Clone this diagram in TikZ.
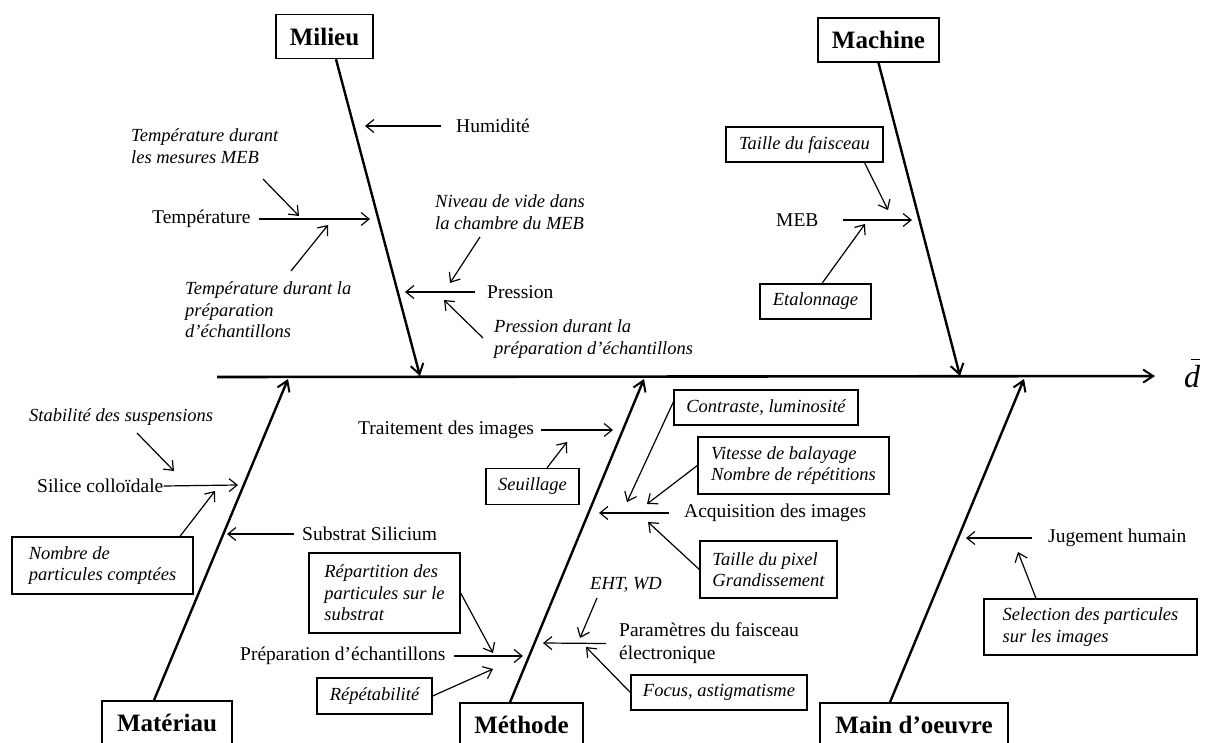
\documentclass[tikz,border=0pt]{standalone}
\usepackage{fontspec}
\setmainfont{Liberation Serif}
\usetikzlibrary{arrows.meta,calc}
\begin{document}
\begin{tikzpicture}[x=1pt,y=-1pt,
  norm/.style={font=\fontsize{19.5}{23}\selectfont, inner sep=0pt, anchor=west, align=left},
  ital/.style={font=\fontsize{18.5}{21.5}\selectfont\itshape, inner sep=0pt, anchor=west, align=left},
  ibox/.style={draw, line width=1.3pt, font=\fontsize{18.5}{21.5}\selectfont\itshape, inner sep=0pt, align=left},
  cat/.style={draw, line width=1.5pt, font=\fontsize{25}{28}\selectfont\bfseries, inner sep=0pt, minimum height=44pt},
  bone/.style={line width=2.4pt, -{Straight Barb[length=10pt,width=13pt,line width=2pt]}},
  spine/.style={line width=2.6pt, -{Straight Barb[length=10pt,width=13pt,line width=2pt]}},
  sub/.style={line width=1.2pt, -{Straight Barb[length=8pt,width=13pt]}}]
\clip (0,0) rectangle (1205,743);
\fill[white] (0,0) rectangle (1205,743);

% category boxes
\node[cat, minimum width=97pt] (milieu) at (324.5,36.5) {Milieu};
\node[cat, minimum width=121pt] (machine) at (878.5,40) {Machine};
\node[cat, minimum width=130pt] (materiau) at (167,723) {Matériau};
\node[cat, minimum width=123pt] (methode) at (521.5,725) {Méthode};
\node[cat, minimum width=188pt] (mo) at (914,725) {Main d’oeuvre};

% spine
\coordinate (spL) at (217,377);
\node[inner sep=0pt, anchor=base west, font=\fontsize{32}{36}\selectfont\itshape] (dbar) at (1184,387) {d};
\draw[line width=1.4pt] ([xshift=-1pt,yshift=5pt]dbar.north) -- ([xshift=8pt,yshift=5pt]dbar.north);
\draw[spine] (spL) -- ($(dbar.west)+(-29,0)$);

% bones
\coordinate (sMil) at (420,376);
\coordinate (sMac) at (960,376);
\coordinate (sMat) at (288,379);
\coordinate (sMet) at (644,379);
\coordinate (sMo) at (1024,379);
\draw[bone] ($(milieu.south)+(11.5,0)$) -- (sMil);
\draw[bone] (machine.south) -- (sMac);
\draw[bone] ($(materiau.north)+(-13,0)$) -- (sMat);
\draw[bone] ($(methode.north)+(-11.5,0)$) -- (sMet);
\draw[bone] ($(mo.north)+(-24,0)$) -- (sMo);

% ---------------- Milieu
\node[norm] (hum) at (456,126) {Humidité};
\coordinate (humE) at (365,126);
\draw[sub] ([xshift=-15pt]hum.west) -- (humE);

\node[ital] (tdm) at (131,146) {Température durant\\les mesures MEB};
\coordinate (tdmS) at (263,179);
\coordinate (tdmE) at (299,216);
\draw[sub] (tdmS) -- (tdmE);

\node[norm] (temp) at (152,219) {Température};
\coordinate (tempE) at (370,219);
\draw[sub] ([xshift=8pt]temp.east) -- (tempE);

\node[ital] (tdp) at (185,310) {Température durant la\\préparation\\d’échantillons};
\coordinate (tdpS) at (291,271);
\coordinate (tdpE) at (328,225);
\draw[sub] (tdpS) -- (tdpE);

\node[ital] (niv) at (435,212) {Niveau de vide dans\\la chambre du MEB};
\coordinate (nivS) at (480,237);
\coordinate (nivE) at (450,283);
\draw[sub] (nivS) -- (nivE);

\node[norm] (pres) at (487,292) {Pression};
\coordinate (presE) at (405,292);
\draw[sub] ([xshift=-12pt]pres.west) -- (presE);

\node[ital] (pdp) at (494,339) {Pression durant la\\préparation d’échantillons};
\coordinate (pdpS) at (483,338);
\coordinate (pdpE) at (444,300);
\draw[sub] (pdpS) -- (pdpE);

% ---------------- Machine
\node[ibox, minimum width=157pt, minimum height=35pt] (tf) at (804.5,144.5) {Taille du faisceau};
\coordinate (tfE) at (888,210);
\draw[sub] ([xshift=60pt]tf.south) -- (tfE);

\node[norm] (meb) at (776,220) {MEB};
\coordinate (mebE) at (912,220);
\draw[sub] ([xshift=24pt]meb.east) -- (mebE);

\node[ibox, minimum width=111pt, minimum height=35pt] (et) at (815.5,301.5) {Etalonnage};
\coordinate (etE) at (865,224);
\draw[sub] ([xshift=6.5pt]et.north) -- (etE);

% ---------------- Materiau
\node[ital] (stab) at (29,417) {Stabilité des suspensions};
\coordinate (stabS) at (137,433);
\coordinate (stabE) at (174,471);
\draw[sub] (stabS) -- (stabE);

\node[norm] (sil) at (37,486) {Silice colloïdale};
\coordinate (silE) at (238,485);
\draw[sub] (sil.east) -- (silE);

\node[ibox, minimum width=181pt, minimum height=57pt] (nb) at (102.5,565.5) {Nombre de\\particules comptées};
\coordinate (nbE) at (215,491);
\draw[sub] ([xshift=77.5pt]nb.north) -- (nbE);

\node[norm] (subs) at (302,534) {Substrat Silicium};
\coordinate (subsE) at (227,534);
\draw[sub] ([xshift=-8pt]subs.west) -- (subsE);

% ---------------- Methode
\node[norm] (trait) at (358,430) {Traitement des images};
\coordinate (traitE) at (613,430);
\draw[sub] ([xshift=7pt]trait.east) -- (traitE);

\node[ibox, minimum width=93pt, minimum height=36pt] (seu) at (532.5,486.5) {Seuillage};
\coordinate (seuE) at (567,442);
\draw[sub] ([xshift=14.5pt]seu.north) -- (seuE);

\node[ibox, minimum width=151pt, minimum height=80pt] (rep) at (384.5,593) {Répartition des\\particules sur le\\substrat};
\coordinate (repE) at (493,653);
\draw[sub] (rep.east) -- (repE);

\node[norm] (prep) at (240,656) {Préparation d’échantillons};
\coordinate (prepE) at (523,656);
\draw[sub] ([xshift=8pt]prep.east) -- (prepE);

\node[ibox, minimum width=115pt, minimum height=36pt] (rpt) at (374.5,696) {Répétabilité};
\coordinate (rptE) at (493,669);
\draw[sub] (rpt.east) -- (rptE);

\node[ibox, minimum width=184pt, minimum height=35pt] (con) at (766,407.5) {Contraste, luminosité};
\coordinate (conE) at (627,502);
\draw[sub] ([yshift=5.5pt]con.west) -- (conE);

\node[ibox, minimum width=191pt, minimum height=57pt] (vit) at (793.5,465.5) {Vitesse de balayage\\Nombre de répétitions};
\coordinate (vitE) at (647,504);
\draw[sub] (vit.west) -- (vitE);

\node[norm] (acq) at (684,513) {Acquisition des images};
\coordinate (acqE) at (599,513);
\draw[sub] ([xshift=-15pt]acq.west) -- (acqE);

\node[ibox, minimum width=137pt, minimum height=57pt] (tp) at (768.5,569.5) {Taille du pixel\\Grandissement};
\coordinate (tpE) at (648,522);
\draw[sub] (tp.west) -- (tpE);

\node[ital] (eht) at (590,585) {EHT, WD};
\coordinate (ehtS) at (597,598);
\coordinate (ehtE) at (580,638);
\draw[sub] (ehtS) -- (ehtE);

\node[norm] (par) at (619,643.5) {Paramètres du faisceau\\électronique};
\coordinate (parE) at (543,643);
\draw[sub] ([xshift=-13pt]par.west) -- (parE);

\node[ibox, minimum width=176pt, minimum height=35pt] (foc) at (719,692.5) {Focus, astigmatisme};
\coordinate (focE) at (586,647);
\draw[sub] (foc.west) -- (focE);

% ---------------- Main d'oeuvre
\node[norm] (jug) at (1048,538) {Jugement humain};
\coordinate (jugE) at (966,538);
\draw[sub] ([xshift=-16pt]jug.west) -- (jugE);

\node[ibox, minimum width=213pt, minimum height=56pt] (sel) at (1090.5,627) {Selection des particules\\sur les images};
\coordinate (selE) at (1018,552);
\draw[sub] ([xshift=-54.5pt]sel.north) -- (selE);
\end{tikzpicture}
\end{document}
